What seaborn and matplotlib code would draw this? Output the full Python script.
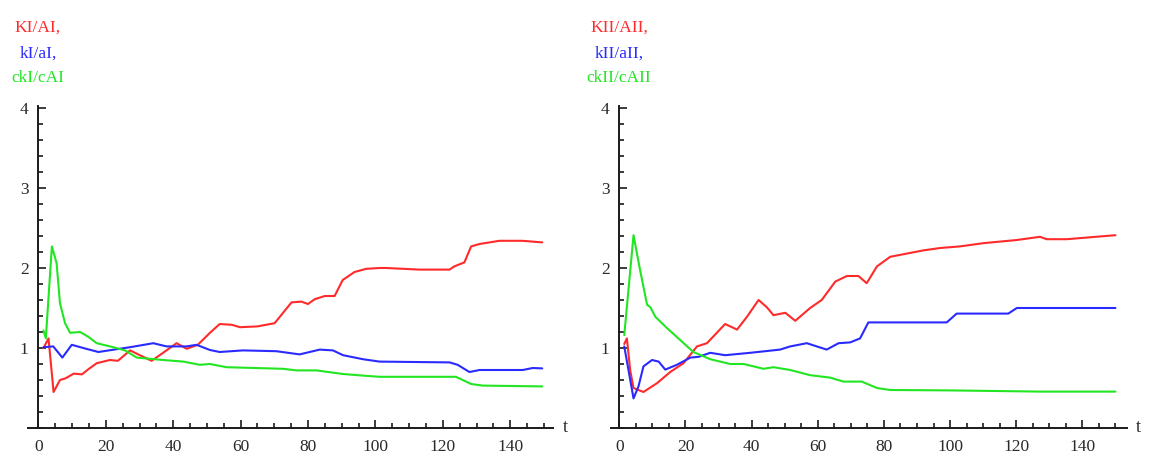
import matplotlib
matplotlib.use("Agg")
import matplotlib.pyplot as plt
import seaborn as sns
import numpy as np
from matplotlib.ticker import MultipleLocator

# ---------------- data ----------------
# Left panel
t_KI = [1.5, 3, 4.5, 6.4, 8, 10.5, 12.9, 15, 17.3, 21.2, 23.6, 27.2, 30.1, 33.6, 37, 41, 44,
        47.3, 50.9, 53.8, 57.4, 59.8, 65, 70.1, 75.1, 78, 80, 82, 85, 87.9, 90.3, 93.8, 97.3,
        101.2, 103.3, 113, 122, 123.4, 126.4, 128.4, 130.9, 136.8, 143.6, 149.5]
v_KI = [1.0, 1.12, 0.45, 0.6, 0.62, 0.68, 0.67, 0.74, 0.81, 0.85, 0.84, 0.97, 0.91, 0.84, 0.94,
        1.06, 0.99, 1.04, 1.19, 1.30, 1.29, 1.26, 1.27, 1.31, 1.57, 1.58, 1.55, 1.61, 1.65, 1.65,
        1.85, 1.95, 1.99, 2.0, 2.0, 1.98, 1.98, 2.02, 2.07, 2.27, 2.30, 2.34, 2.34, 2.32]

t_kI = [1.5, 4.4, 7.1, 9.9, 13.3, 17.8, 21.7, 27.2, 34.1, 38, 44, 46.9, 50.9, 53.8, 60.7, 70.6,
        77.5, 83.5, 87.4, 90.4, 96.3, 101.2, 122, 124.4, 127.9, 130.9, 143.7, 146.7, 149.5]
v_kI = [1.01, 1.02, 0.88, 1.04, 1.0, 0.95, 0.975, 1.01, 1.06, 1.02, 1.02, 1.04, 0.975, 0.95,
        0.97, 0.96, 0.92, 0.98, 0.97, 0.91, 0.86, 0.83, 0.82, 0.79, 0.70, 0.725, 0.725, 0.75, 0.745]

t_ckI = [1.5, 2.2, 4, 5.4, 6.4, 7.9, 9.4, 12.4, 14.8, 17.3, 22.2, 25.7, 29.2, 37, 43, 47.9, 50.9,
         55.8, 72.6, 76.6, 82.5, 90.4, 96.3, 101.2, 123.9, 128.4, 131.9, 149.5]
v_ckI = [1.22, 1.12, 2.27, 2.06, 1.56, 1.31, 1.19, 1.20, 1.14, 1.06, 1.01, 0.97, 0.88, 0.85, 0.83,
         0.79, 0.80, 0.76, 0.74, 0.72, 0.72, 0.675, 0.655, 0.64, 0.64, 0.55, 0.53, 0.52]

# Right panel
t_KII = [1.5, 2.3, 3.3, 4.3, 7.3, 11.4, 15.4, 19.4, 23.5, 26.5, 32, 35.6, 38.6, 42.1, 44.6, 46.6,
         50.2, 53.2, 57.7, 61.2, 65.3, 68.8, 72.3, 74.8, 77.9, 81.9, 86.9, 91.9, 97, 103, 110,
         120.2, 127.2, 129.2, 135.3, 150]
v_KII = [1.05, 1.12, 0.72, 0.50, 0.45, 0.56, 0.70, 0.81, 1.02, 1.06, 1.30, 1.23, 1.39, 1.60, 1.51,
         1.41, 1.44, 1.34, 1.50, 1.60, 1.83, 1.90, 1.90, 1.81, 2.02, 2.14, 2.18, 2.22, 2.25, 2.27,
         2.31, 2.35, 2.39, 2.36, 2.36, 2.41]

t_kII = [1.5, 4.3, 5.8, 7.3, 9.9, 11.9, 13.9, 17.4, 21.5, 24, 27.5, 32, 39.6, 48.6, 51.7, 56.7,
         62.7, 66.3, 69.8, 72.8, 75.3, 99, 102, 117.6, 120.2, 150]
v_kII = [1.02, 0.37, 0.52, 0.77, 0.85, 0.83, 0.73, 0.79, 0.88, 0.89, 0.94, 0.91, 0.94, 0.98, 1.02,
         1.06, 0.98, 1.06, 1.07, 1.12, 1.32, 1.32, 1.43, 1.43, 1.50, 1.50]

t_ckII = [1.5, 4.3, 6.3, 8.4, 9.4, 10.9, 14.4, 18.4, 22.4, 27.5, 33.5, 37.6, 43.6, 46.6, 51.7, 57.7,
          63.7, 67.8, 73.3, 77.9, 81.9, 100, 127.2, 150]
v_ckII = [1.16, 2.41, 1.97, 1.54, 1.51, 1.39, 1.25, 1.10, 0.95, 0.86, 0.80, 0.80, 0.74, 0.76, 0.725,
          0.66, 0.63, 0.58, 0.58, 0.50, 0.475, 0.47, 0.455, 0.455]

labels_left = ["KI/AI,", "kI/aI,", "ckI/cAI"]
labels_right = ["KII/AII,", "kII/aII,", "ckII/cAII"]
x_ticks = [0, 20, 40, 60, 80, 100, 120, 140]
y_ticks = [1, 2, 3, 4]

# ---------------- style ----------------
sns.set_theme(style="white")
plt.rcParams["font.family"] = ["Liberation Serif", "DejaVu Serif"]

RED, BLUE, GREEN = "#ff2a2a", "#2a2aff", "#22e622"
fig = plt.figure(figsize=(11.51, 4.57), dpi=100)

W, H = 1151, 457

def make_axes(x0px, x1px, xlim):
    ax = fig.add_axes([x0px / W, 1 - 428 / H, (x1px - x0px) / W, (428 - 106) / H])
    ax.set_xlim(*xlim)
    ax.set_ylim(0, 4.025)
    return ax

axL = make_axes(28.3, 553, (-3, 152.7))
axR = make_axes(610.7, 1127, (-2.6, 153.5))

series = [
    (axL, [(t_KI, v_KI, RED), (t_kI, v_kI, BLUE), (t_ckI, v_ckI, GREEN)]),
    (axR, [(t_KII, v_KII, RED), (t_kII, v_kII, BLUE), (t_ckII, v_ckII, GREEN)]),
]
for ax, lines in series:
    for t, v, c in lines:
        sns.lineplot(x=t, y=v, color=c, linewidth=1.5, ax=ax, sort=False, estimator=None)
    for s in ("top", "right"):
        ax.spines[s].set_visible(False)
    ax.spines["left"].set_position(("data", 0))
    for s in ("left", "bottom"):
        ax.spines[s].set_color("#1a1a1a")
        ax.spines[s].set_linewidth(1.4)
    ax.set_xticks(x_ticks)
    ax.set_xticklabels([str(x) for x in x_ticks])
    ax.set_yticks(y_ticks)
    ax.set_yticklabels([str(y) for y in y_ticks])
    ax.xaxis.set_minor_locator(MultipleLocator(5))
    ax.yaxis.set_minor_locator(MultipleLocator(0.2))
    ax.tick_params(which="both", direction="in", color="#1a1a1a", width=1.2,
                   bottom=True, left=True, top=False, right=False)
    ax.tick_params(which="major", length=6, labelsize=12.5, labelcolor="#2a2a2a")
    ax.tick_params(axis="x", which="major", pad=8)
    ax.tick_params(axis="y", which="major", pad=7)
    ax.tick_params(which="minor", length=3.5)
    ax.set_xlabel("")
    ax.set_ylabel("")
    ax.text(1.018, 0.0, "t", transform=ax.transAxes, ha="left", va="center",
            fontsize=13, color="#2a2a2a")
    ax.grid(False)
    ax.patch.set_alpha(0)

# stacked colored axis labels above the y axes
for xc, labs in ((38, labels_left), (619, labels_right)):
    for ypx, lab, col in zip((28, 54, 78), labs, (RED, BLUE, GREEN)):
        fig.text(xc / W, 1 - ypx / H, lab, ha="center", va="center",
                 fontsize=12.5, color=col)

fig.savefig("out.png", dpi=100)
